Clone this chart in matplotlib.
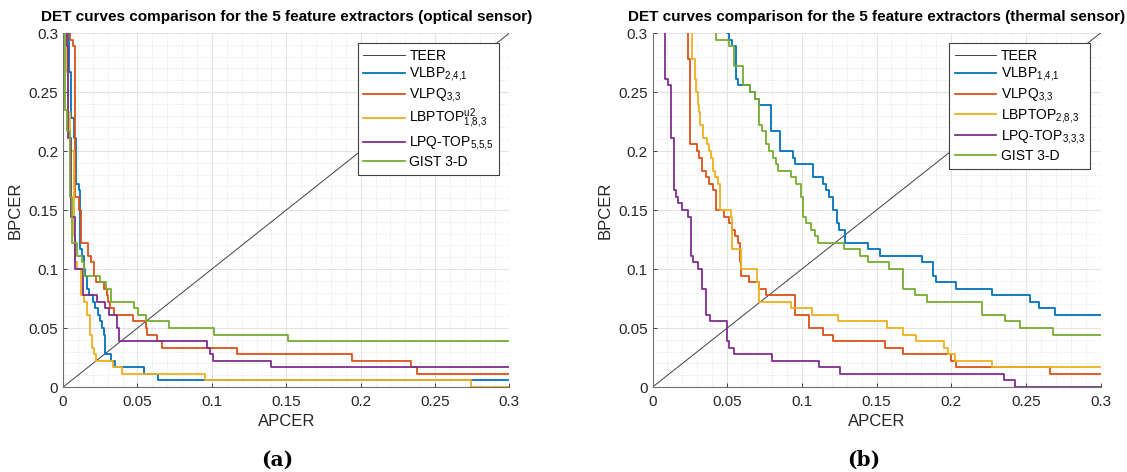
import matplotlib
matplotlib.use('Agg')
import matplotlib.pyplot as plt
from matplotlib.ticker import MultipleLocator, FormatStrFormatter

plt.rcParams['font.family'] = ['Liberation Sans', 'DejaVu Sans']
plt.rcParams['mathtext.default'] = 'regular'

# ---- data: DET curves (APCER, BPCER step points) ----
# (a) optical sensor
opt_vlbp_x = [0.003, 0.004, 0.0055, 0.0075, 0.0085, 0.0105, 0.0112, 0.0125, 0.0138, 0.0145,
              0.016, 0.0175, 0.020, 0.0215, 0.0232, 0.0248, 0.0262, 0.0275, 0.0283, 0.032,
              0.035, 0.0545, 0.0635, 0.3]
opt_vlbp_y = [0.31, 0.267, 0.228, 0.211, 0.172, 0.167, 0.117, 0.111, 0.100, 0.0944,
              0.0833, 0.0778, 0.0722, 0.0667, 0.0611, 0.0556, 0.050, 0.0444, 0.0278, 0.0222,
              0.0167, 0.0111, 0.0056, 0.0056]

opt_vlpq_x = [0.0035, 0.0045, 0.0065, 0.008, 0.0105, 0.012, 0.0168, 0.019, 0.021, 0.022,
              0.0276, 0.0292, 0.0305, 0.0318, 0.034, 0.047, 0.0554, 0.0565, 0.0633, 0.0667,
              0.1172, 0.194, 0.234, 0.238, 0.3]
opt_vlpq_y = [0.31, 0.294, 0.289, 0.161, 0.150, 0.122, 0.111, 0.106, 0.0944, 0.0889,
              0.0833, 0.0778, 0.0722, 0.0667, 0.0611, 0.0556, 0.050, 0.0444, 0.0389, 0.0333,
              0.0278, 0.0222, 0.0167, 0.0111, 0.0111]

opt_lbptop_x = [0.0018, 0.0027, 0.0036, 0.0045, 0.0072, 0.0083, 0.0095, 0.0117, 0.014, 0.0162,
                0.018, 0.0196, 0.0207, 0.022, 0.0336, 0.0396, 0.0955, 0.2745, 0.3]
opt_lbptop_y = [0.31, 0.267, 0.233, 0.200, 0.128, 0.106, 0.100, 0.0778, 0.0722, 0.0611,
                0.0444, 0.0333, 0.0278, 0.0222, 0.0167, 0.0111, 0.0056, 0.0, 0.0]

opt_lpqtop_x = [0.0025, 0.0025, 0.0035, 0.0055, 0.0078, 0.0135, 0.0227, 0.0239, 0.0284, 0.0306,
                0.0363, 0.0378, 0.0967, 0.099, 0.101, 0.140, 0.3]
opt_lpqtop_y = [0.31, 0.289, 0.211, 0.144, 0.100, 0.0778, 0.0722, 0.0722, 0.0667, 0.0611,
                0.050, 0.0389, 0.0333, 0.0278, 0.0222, 0.0167, 0.0167]

opt_gist_x = [0.0005, 0.001, 0.0027, 0.0045, 0.006, 0.0095, 0.0128, 0.014, 0.025, 0.0286,
              0.032, 0.0477, 0.0505, 0.0557, 0.0715, 0.1015, 0.151, 0.3]
opt_gist_y = [0.31, 0.235, 0.217, 0.161, 0.122, 0.111, 0.106, 0.0944, 0.0889, 0.0833,
              0.0722, 0.0667, 0.0611, 0.0556, 0.050, 0.0444, 0.0389, 0.0389]

# (b) thermal sensor
th_vlbp_x = [0.0496, 0.0496, 0.0515, 0.053, 0.0557, 0.0575, 0.0655, 0.0685, 0.071, 0.079,
             0.0795, 0.0855, 0.094, 0.0955, 0.1075, 0.114, 0.1163, 0.118, 0.1208, 0.1234,
             0.125, 0.1286, 0.144, 0.152, 0.1806, 0.1877, 0.190, 0.203, 0.227, 0.2525,
             0.2585, 0.2692, 0.3]
th_vlbp_y = [0.31, 0.300, 0.294, 0.289, 0.261, 0.256, 0.250, 0.244, 0.239, 0.233,
             0.217, 0.200, 0.194, 0.189, 0.178, 0.172, 0.167, 0.161, 0.150, 0.139,
             0.133, 0.122, 0.117, 0.111, 0.106, 0.0944, 0.0889, 0.0833, 0.0778, 0.0722,
             0.0667, 0.0611, 0.0611]

th_vlpq_x = [0.0236, 0.0236, 0.0253, 0.0297, 0.031, 0.0333, 0.0357, 0.0375, 0.0406, 0.0425,
             0.048, 0.051, 0.0535, 0.055, 0.057, 0.0585, 0.0595, 0.0645, 0.0715, 0.0757,
             0.0955, 0.105, 0.114, 0.121, 0.156, 0.168, 0.200, 0.2035, 0.266, 0.3]
th_vlpq_y = [0.31, 0.278, 0.206, 0.200, 0.194, 0.183, 0.178, 0.172, 0.167, 0.150,
             0.144, 0.139, 0.133, 0.128, 0.122, 0.106, 0.0944, 0.0889, 0.0833, 0.0778,
             0.0611, 0.050, 0.0444, 0.0389, 0.0333, 0.0278, 0.0222, 0.0167, 0.0111, 0.0111]

th_lbptop_x = [0.0267, 0.0267, 0.0284, 0.029, 0.0303, 0.031, 0.0318, 0.034, 0.0363, 0.0375,
               0.039, 0.0408, 0.042, 0.0437, 0.0452, 0.0523, 0.053, 0.0535, 0.0595, 0.070,
               0.071, 0.0926, 0.107, 0.124, 0.157, 0.168, 0.1765, 0.1955, 0.198, 0.2025,
               0.227, 0.3]
th_lbptop_y = [0.31, 0.278, 0.261, 0.250, 0.239, 0.233, 0.222, 0.211, 0.206, 0.200,
               0.194, 0.183, 0.178, 0.172, 0.150, 0.144, 0.133, 0.117, 0.100, 0.0889,
               0.0722, 0.0667, 0.0611, 0.0556, 0.050, 0.0444, 0.0389, 0.0333, 0.0278, 0.0222,
               0.0167, 0.0167]

th_lpqtop_x = [0.0085, 0.0085, 0.0102, 0.0126, 0.0146, 0.0157, 0.017, 0.020, 0.0236, 0.0255,
               0.0273, 0.0306, 0.0333, 0.036, 0.0385, 0.0497, 0.0509, 0.0543, 0.0802, 0.1117,
               0.1257, 0.2357, 0.2424, 0.3]
th_lpqtop_y = [0.31, 0.261, 0.256, 0.211, 0.167, 0.161, 0.156, 0.150, 0.144, 0.111,
               0.106, 0.100, 0.0833, 0.0611, 0.0556, 0.0389, 0.0333, 0.0278, 0.0222, 0.0167,
               0.0111, 0.0056, 0.0, 0.0]

th_gist_x = [0.0423, 0.0423, 0.0515, 0.0545, 0.0605, 0.0655, 0.0685, 0.071, 0.0735, 0.076,
             0.078, 0.0805, 0.0825, 0.084, 0.093, 0.0958, 0.0997, 0.1005, 0.1026, 0.106,
             0.1087, 0.111, 0.128, 0.139, 0.1444, 0.1585, 0.1678, 0.1758, 0.184, 0.2205,
             0.2362, 0.2458, 0.268, 0.3]
th_gist_y = [0.31, 0.294, 0.289, 0.272, 0.256, 0.250, 0.244, 0.222, 0.217, 0.206,
             0.200, 0.194, 0.189, 0.183, 0.178, 0.172, 0.161, 0.144, 0.139, 0.133,
             0.128, 0.122, 0.117, 0.111, 0.106, 0.100, 0.0833, 0.0778, 0.0722, 0.0611,
             0.0556, 0.050, 0.0444, 0.0444]

opt_labels = ['TEER', 'VLBP$_{2{,}4{,}1}$', 'VLPQ$_{3{,}3}$', 'LBPTOP$^{u2}_{1{,}8{,}3}$',
              'LPQ-TOP$_{5{,}5{,}5}$', 'GIST 3-D']
th_labels = ['TEER', 'VLBP$_{1{,}4{,}1}$', 'VLPQ$_{3{,}3}$', 'LBPTOP$_{2{,}8{,}3}$',
             'LPQ-TOP$_{3{,}3{,}3}$', 'GIST 3-D']

colors = ['#0072BD', '#D95319', '#EDB120', '#7E2F8E', '#77AC30']
tick_vals = [0, 0.05, 0.1, 0.15, 0.2, 0.25, 0.3]


def draw_panel(ax, curves, labels, title):
    '''
    Draw one DET comparison panel (MATLAB-like look).
    '''
    ax.plot([0, 0.3], [0, 0.3], color='#404040', lw=0.7, label=labels[0])
    for (xs, ys), c, lab in zip(curves, colors, labels[1:]):
        ax.plot(xs, ys, drawstyle='steps-post', color=c, lw=1.3, label=lab)

    ax.set_xlim(0, 0.3)
    ax.set_ylim(0, 0.3)
    ax.set_xticks(tick_vals)
    ax.set_yticks(tick_vals)
    ax.xaxis.set_major_formatter(FormatStrFormatter('%g'))
    ax.yaxis.set_major_formatter(FormatStrFormatter('%g'))
    ax.xaxis.set_minor_locator(MultipleLocator(0.01))
    ax.yaxis.set_minor_locator(MultipleLocator(0.01))
    ax.grid(which='major', color='#e3e3e3', lw=0.8)
    ax.grid(which='minor', color='#dedede', lw=0.6, ls=':')
    ax.set_axisbelow(True)

    for s in ['top', 'right']:
        ax.spines[s].set_visible(False)
    for s in ['left', 'bottom']:
        ax.spines[s].set_color('#707070')
        ax.spines[s].set_linewidth(0.8)
    ax.tick_params(which='both', direction='in', colors='#262626', labelsize=11,
                   length=3, width=0.6)
    ax.tick_params(which='minor', length=0)
    ax.tick_params(axis='x', pad=6)

    ax.set_xlabel('APCER', fontsize=12, color='#262626', labelpad=3)
    ax.set_ylabel('BPCER', fontsize=12, color='#262626', labelpad=4)
    ax.set_title(title, fontsize=11, fontweight='bold', pad=9)

    leg = ax.legend(loc='upper right', bbox_to_anchor=(0.977, 0.972), fontsize=10,
                    frameon=True, fancybox=False, framealpha=1, edgecolor='#404040',
                    handlelength=3.0, labelspacing=0.21, borderpad=0.4,
                    handletextpad=0.3, borderaxespad=0)
    leg.get_frame().set_linewidth(0.8)


fig = plt.figure(figsize=(11.27, 4.72), dpi=100)
ax1 = fig.add_axes([0.056, 0.180, 0.396, 0.750])
ax2 = fig.add_axes([0.579, 0.180, 0.3975, 0.750])

draw_panel(ax1,
           [(opt_vlbp_x, opt_vlbp_y), (opt_vlpq_x, opt_vlpq_y), (opt_lbptop_x, opt_lbptop_y),
            (opt_lpqtop_x, opt_lpqtop_y), (opt_gist_x, opt_gist_y)],
           opt_labels,
           'DET curves comparison for the 5 feature extractors (optical sensor)')
draw_panel(ax2,
           [(th_vlbp_x, th_vlbp_y), (th_vlpq_x, th_vlpq_y), (th_lbptop_x, th_lbptop_y),
            (th_lpqtop_x, th_lpqtop_y), (th_gist_x, th_gist_y)],
           th_labels,
           'DET curves comparison for the 5 feature extractors (thermal sensor)')

fig.text(0.246, 0.025, '(a)', ha='center', va='center', fontsize=14.5,
         fontweight='bold', family='DejaVu Serif')
fig.text(0.766, 0.025, '(b)', ha='center', va='center', fontsize=14.5,
         fontweight='bold', family='DejaVu Serif')

fig.savefig('out.png', dpi=100)
